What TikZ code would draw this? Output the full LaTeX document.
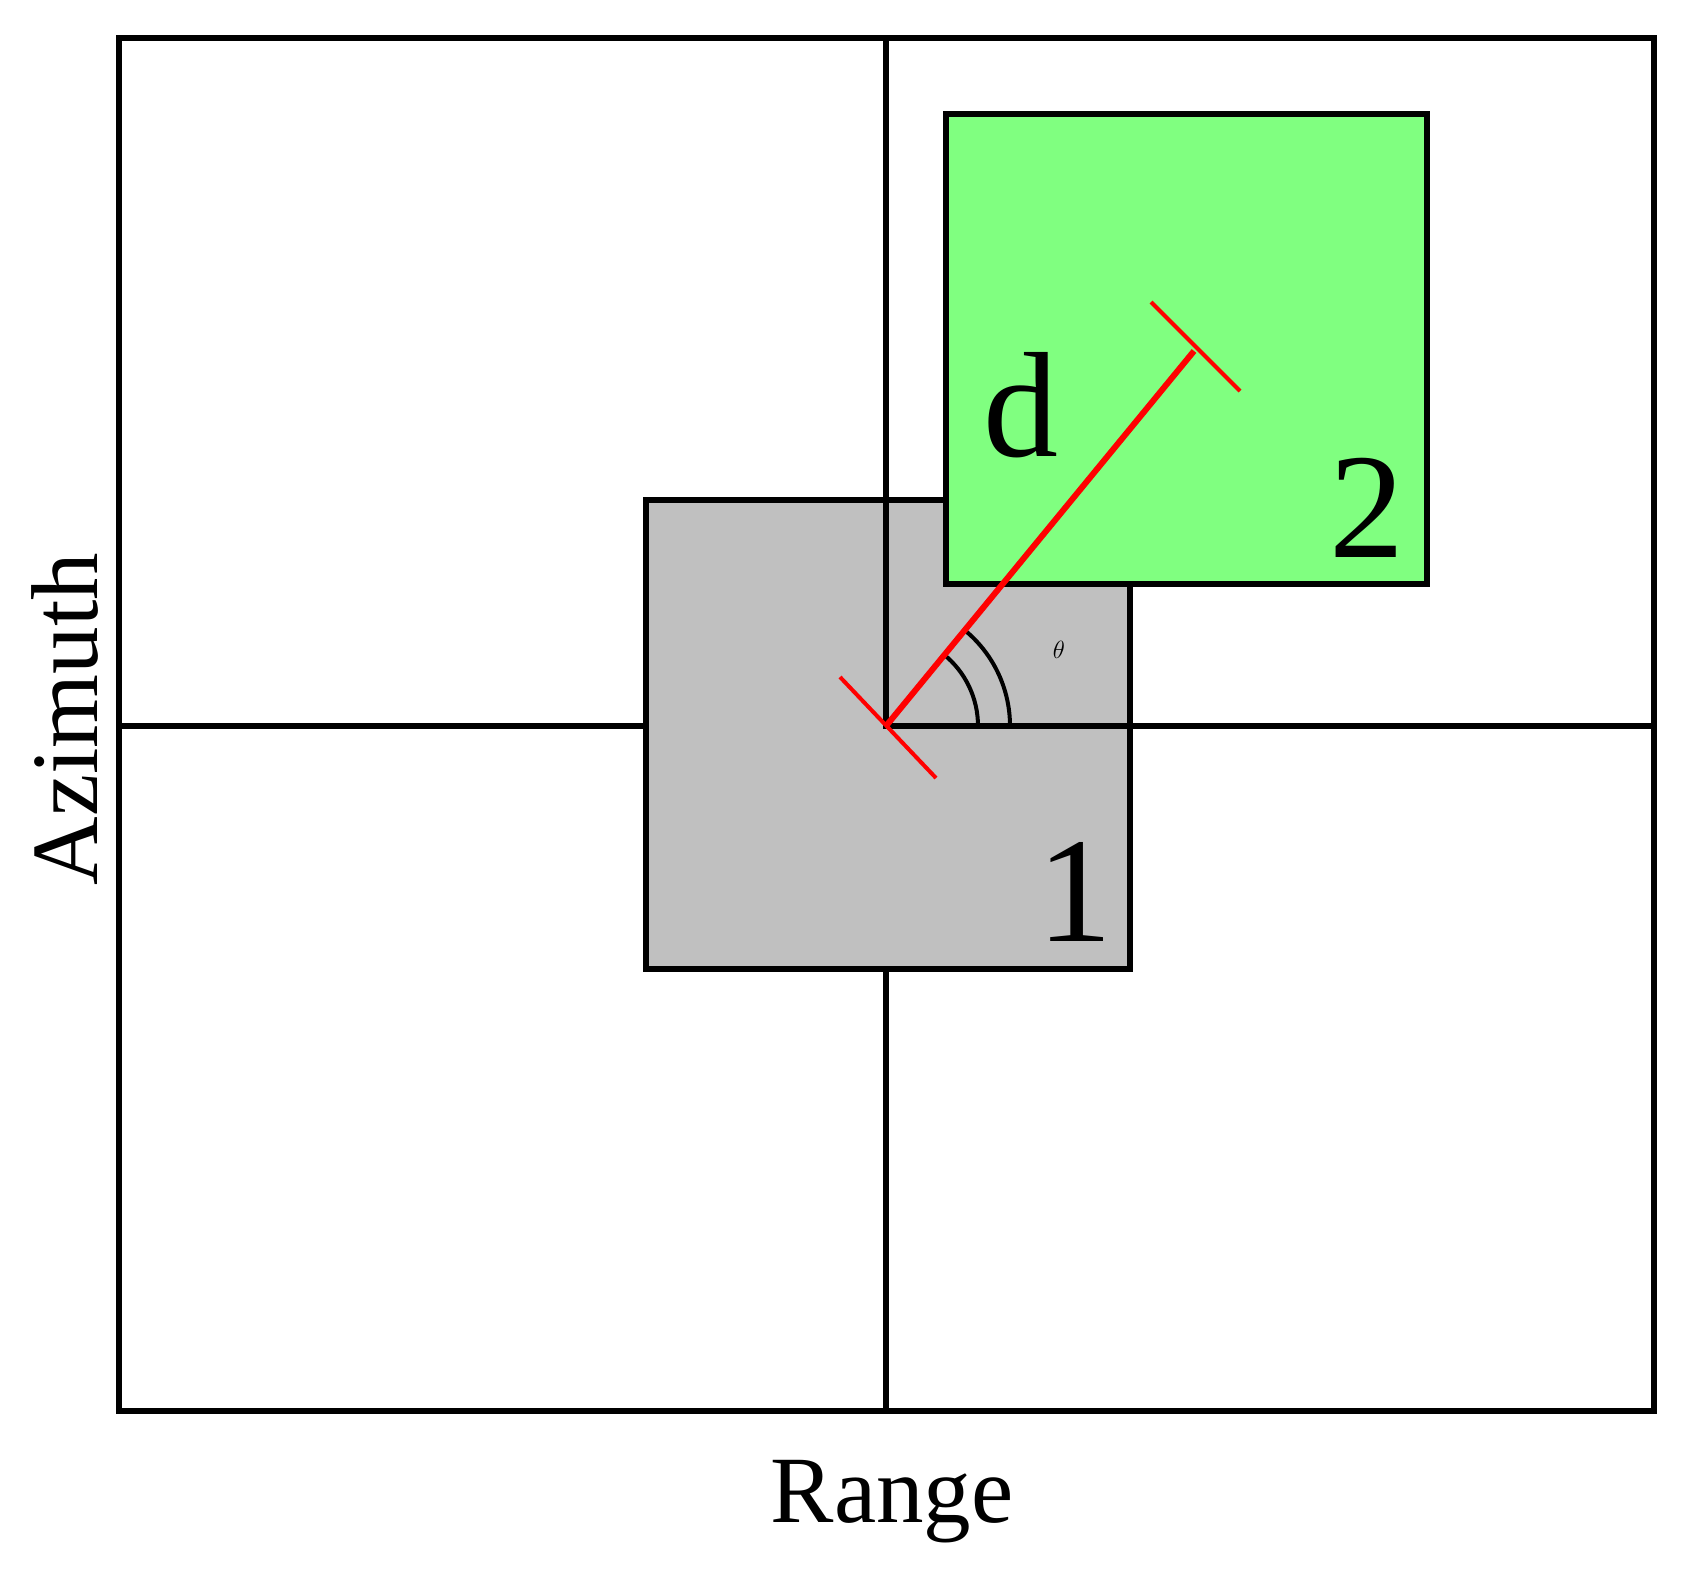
\documentclass[tikz,border=0pt]{standalone}
\usetikzlibrary{calc}
\usepackage{fontspec}
\setmainfont{Liberation Serif}
\begin{document}
\begin{tikzpicture}[x=1pt,y=-1pt,
  box/.style={draw=black,line width=6pt},
  lbl/.style={font=\fontsize{150}{150}\selectfont,inner sep=0pt},
  axl/.style={font=\fontsize{95}{95}\selectfont,inner sep=0pt},
  red/.style={draw=red,line width=6pt},
  tick/.style={draw=red,line width=4pt}]
\useasboundingbox (0,0) rectangle (1686,1572);
\draw[box] (119,38) rectangle (1654,1411);
\draw[box] (886,38) -- (886,1411);
\draw[box] (119,726) -- (1654,726);
\draw[box,fill={rgb,255:red,192;green,192;blue,192}] (646,500) rectangle (1130,969);
\draw[box] (886,500) -- (886,726) -- (1130,726);
\draw[box] (886,969) -- (886,1411);
\draw[box,fill={rgb,255:red,128;green,255;blue,128}] (946,114) rectangle (1427,584);
\coordinate (o) at (886,726);
\coordinate (e) at (1194,351);
\draw[black,line width=4pt] ([shift={(0:92)}]o) arc[start angle=0,end angle=-51,radius=92];
\draw[black,line width=4pt] ([shift={(0:124)}]o) arc[start angle=0,end angle=-51,radius=124];
\draw[red] (o) -- (e);
\draw[tick] ($(o)+(-46,-49)$) -- ($(o)+(50,52)$);
\draw[tick] ($(e)+(-43,-49)$) -- ($(e)+(46,40)$);
\node[lbl] (d) at (1021,405) {d};
\node[lbl] (n2) at (1367,508) {2};
\node[lbl] (n1) at (1075,892) {1};
\node[lbl,font=\fontsize{120}{120}\selectfont\bfseries] (th) at (1059,650) {$\theta$};
\node[axl,rotate=90] (az) at (65,719) {Azimuth};
\node[axl] (rg) at (892,1502) {Range};
\end{tikzpicture}
\end{document}
